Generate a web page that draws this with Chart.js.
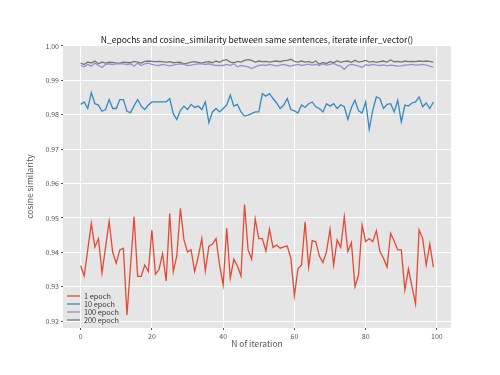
<!DOCTYPE html>
<html>
<head>
<meta charset="utf-8">
<script src="https://cdn.jsdelivr.net/npm/chart.js@4"></script>
<style>
  html, body { margin: 0; padding: 0; background: #fff; }
  #wrap { width: 500px; height: 375px; }
</style>
</head>
<body>
<div id="wrap"><canvas id="simChart" width="500" height="375"></canvas></div>
<script>
const iterations = Array.from({ length: 100 }, (_, i) => i);

const epoch1 = [
    0.9361, 0.9331, 0.9408, 0.9484, 0.9415, 0.9440, 0.9340, 0.9415, 0.9490, 0.9400,
    0.9368, 0.9407, 0.9412, 0.9218, 0.9360, 0.9503, 0.9330, 0.9330, 0.9363, 0.9344,
    0.9465, 0.9336, 0.9350, 0.9396, 0.9317, 0.9513, 0.9344, 0.9390, 0.9528, 0.9436,
    0.9401, 0.9407, 0.9344, 0.9387, 0.9440, 0.9346, 0.9418, 0.9424, 0.9440, 0.9363,
    0.9305, 0.9470, 0.9325, 0.9380, 0.9360, 0.9331, 0.9539, 0.9407, 0.9380, 0.9497,
    0.9440, 0.9440, 0.9404, 0.9467, 0.9414, 0.9421, 0.9412, 0.9416, 0.9418, 0.9383,
    0.9274, 0.9352, 0.9363, 0.9489, 0.9357, 0.9434, 0.9431, 0.9389, 0.9370, 0.9402,
    0.9467, 0.9363, 0.9436, 0.9414, 0.9503, 0.9402, 0.9428, 0.9300, 0.9334, 0.9479,
    0.9431, 0.9440, 0.9431, 0.9463, 0.9402, 0.9383, 0.9357, 0.9455, 0.9433, 0.9407,
    0.9407, 0.9291, 0.9352, 0.9300, 0.9250, 0.9465, 0.9440, 0.9363, 0.9424, 0.9357
];

const epoch10 = [
    0.9830, 0.9837, 0.9818, 0.9864, 0.9832, 0.9828, 0.9810, 0.9815, 0.9844, 0.9818,
    0.9818, 0.9844, 0.9844, 0.9810, 0.9806, 0.9826, 0.9844, 0.9825, 0.9815, 0.9828,
    0.9837, 0.9837, 0.9837, 0.9837, 0.9837, 0.9847, 0.9803, 0.9786, 0.9813, 0.9825,
    0.9815, 0.9830, 0.9821, 0.9825, 0.9815, 0.9837, 0.9777, 0.9808, 0.9818, 0.9808,
    0.9818, 0.9828, 0.9857, 0.9825, 0.9830, 0.9808, 0.9796, 0.9799, 0.9803, 0.9808,
    0.9808, 0.9861, 0.9854, 0.9861, 0.9847, 0.9834, 0.9818, 0.9828, 0.9847, 0.9815,
    0.9811, 0.9805, 0.9828, 0.9821, 0.9832, 0.9837, 0.9823, 0.9818, 0.9808, 0.9832,
    0.9825, 0.9832, 0.9818, 0.9829, 0.9823, 0.9786, 0.9821, 0.9842, 0.9811, 0.9805,
    0.9837, 0.9758, 0.9813, 0.9852, 0.9847, 0.9818, 0.9830, 0.9832, 0.9808, 0.9842,
    0.9779, 0.9828, 0.9825, 0.9834, 0.9837, 0.9852, 0.9823, 0.9834, 0.9818, 0.9837
];

const epoch100 = [
    0.9943, 0.9939, 0.9946, 0.9941, 0.9950, 0.9943, 0.9937, 0.9946, 0.9948, 0.9946,
    0.9948, 0.9948, 0.9948, 0.9946, 0.9948, 0.9941, 0.9950, 0.9943, 0.9948, 0.9950,
    0.9946, 0.9944, 0.9943, 0.9946, 0.9944, 0.9942, 0.9944, 0.9946, 0.9948, 0.9946,
    0.9943, 0.9944, 0.9946, 0.9948, 0.9948, 0.9946, 0.9948, 0.9945, 0.9943, 0.9943,
    0.9943, 0.9946, 0.9943, 0.9948, 0.9939, 0.9943, 0.9941, 0.9939, 0.9934, 0.9939,
    0.9943, 0.9945, 0.9943, 0.9946, 0.9944, 0.9941, 0.9944, 0.9946, 0.9943, 0.9941,
    0.9944, 0.9946, 0.9943, 0.9945, 0.9947, 0.9944, 0.9946, 0.9943, 0.9948, 0.9944,
    0.9946, 0.9949, 0.9944, 0.9941, 0.9932, 0.9943, 0.9946, 0.9944, 0.9941, 0.9938,
    0.9945, 0.9943, 0.9946, 0.9944, 0.9943, 0.9945, 0.9942, 0.9944, 0.9943, 0.9941,
    0.9942, 0.9944, 0.9945, 0.9946, 0.9944, 0.9945, 0.9946, 0.9944, 0.9941, 0.9938
];

const epoch200 = [
    0.9950, 0.9946, 0.9953, 0.9950, 0.9956, 0.9948, 0.9953, 0.9950, 0.9953, 0.9952,
    0.9950, 0.9950, 0.9953, 0.9952, 0.9951, 0.9955, 0.9953, 0.9950, 0.9955, 0.9956,
    0.9955, 0.9954, 0.9955, 0.9954, 0.9952, 0.9954, 0.9951, 0.9952, 0.9953, 0.9948,
    0.9950, 0.9953, 0.9954, 0.9952, 0.9950, 0.9953, 0.9954, 0.9951, 0.9956, 0.9952,
    0.9958, 0.9960, 0.9953, 0.9951, 0.9955, 0.9953, 0.9958, 0.9960, 0.9958, 0.9953,
    0.9956, 0.9954, 0.9955, 0.9953, 0.9955, 0.9956, 0.9954, 0.9957, 0.9958, 0.9961,
    0.9955, 0.9953, 0.9956, 0.9953, 0.9955, 0.9951, 0.9956, 0.9947, 0.9952, 0.9949,
    0.9954, 0.9951, 0.9957, 0.9952, 0.9955, 0.9956, 0.9952, 0.9958, 0.9953, 0.9955,
    0.9958, 0.9953, 0.9955, 0.9952, 0.9954, 0.9956, 0.9953, 0.9959, 0.9954, 0.9955,
    0.9953, 0.9956, 0.9954, 0.9955, 0.9954, 0.9956, 0.9955, 0.9956, 0.9955, 0.9953
];

const seriesLabels = ['1 epoch', '10 epoch', '100 epoch', '200 epoch'];
const seriesColors = ['#E24A33', '#348ABD', '#988ED5', '#777777'];
const xTicks = [0, 20, 40, 60, 80, 100];
const yTicks = [0.92, 0.93, 0.94, 0.95, 0.96, 0.97, 0.98, 0.99, 1.00];

const FONT = '"Noto Sans CJK JP", "Noto Sans", "DejaVu Sans", sans-serif';

const toPoints = (vals) => vals.map((v, i) => ({ x: iterations[i], y: v }));

// legend drawn inside the plot, lower left (like matplotlib loc='lower left')
const insideLegend = {
    id: 'insideLegend',
    afterDatasetsDraw(chart) {
        const { ctx, chartArea } = chart;
        const x0 = chartArea.left + 4;
        const yLast = chartArea.bottom - 8;
        const gap = 8;
        ctx.save();
        ctx.font = '7.3px ' + FONT;
        ctx.textBaseline = 'middle';
        chart.data.datasets.forEach((ds, i) => {
            const y = yLast - (chart.data.datasets.length - 1 - i) * gap;
            ctx.strokeStyle = ds.borderColor;
            ctx.lineWidth = 1.3;
            ctx.beginPath();
            ctx.moveTo(x0, y);
            ctx.lineTo(x0 + 13, y);
            ctx.stroke();
            ctx.fillStyle = '#333';
            ctx.fillText(ds.label, x0 + 17, y);
        });
        ctx.restore();
    }
};

const plotBg = {
    id: 'plotBg',
    beforeDraw(chart) {
        const { ctx, chartArea } = chart;
        ctx.save();
        ctx.fillStyle = '#E5E5E5';
        ctx.fillRect(chartArea.left, chartArea.top, chartArea.right - chartArea.left, chartArea.bottom - chartArea.top);
        ctx.restore();
    }
};

const ctx = document.getElementById('simChart').getContext('2d');

const chart = new Chart(ctx, {
    type: 'line',
    data: {
        datasets: [epoch1, epoch10, epoch100, epoch200].map((vals, i) => ({
            label: seriesLabels[i],
            data: toPoints(vals),
            borderColor: seriesColors[i],
            backgroundColor: seriesColors[i],
            borderWidth: 1.3,
            pointRadius: 0,
            tension: 0,
            fill: false
        }))
    },
    options: {
        responsive: false,
        animation: false,
        layout: { padding: { left: 0, right: 49, top: 0, bottom: 0 } },
        plugins: {
            legend: { display: false },
            tooltip: { enabled: false },
            title: {
                display: true,
                fullSize: false,
                text: 'N_epochs and cosine_similarity between same sentences, iterate infer_vector()',
                color: '#111',
                font: { family: FONT, size: 8.5, weight: 'normal' },
                padding: { top: 35, bottom: 0 }
            }
        },
        scales: {
            x: {
                type: 'linear',
                min: -4.95,
                max: 103.95,
                afterBuildTicks: (scale) => { scale.ticks = xTicks.map(v => ({ value: v })); },
                afterFit: (scale) => { scale.height = 47; },
                grid: { color: '#FFFFFF', lineWidth: 1, tickLength: 2, tickColor: '#555555' },
                border: { display: false },
                ticks: { color: '#555555', font: { family: FONT, size: 7 }, padding: 2, maxRotation: 0 },
                title: {
                    display: true,
                    text: 'N of iteration',
                    color: '#555555',
                    font: { family: FONT, size: 8.5 },
                    padding: { top: 0, bottom: 26 }
                }
            },
            y: {
                min: 0.918,
                max: 1.0002,
                afterBuildTicks: (scale) => { scale.ticks = yTicks.map(v => ({ value: v })); },
                afterFit: (scale) => { scale.width = 63; },
                grid: { color: '#FFFFFF', lineWidth: 1, tickLength: 2, tickColor: '#555555' },
                border: { display: false },
                ticks: {
                    color: '#555555',
                    font: { family: FONT, size: 7 },
                    padding: 2,
                    callback: (v) => Number(v).toFixed(2)
                },
                title: {
                    display: true,
                    text: 'cosine similarity',
                    color: '#555555',
                    font: { family: FONT, size: 8.5 },
                    padding: { top: 25, bottom: 0 }
                }
            }
        }
    },
    plugins: [plotBg, insideLegend]
});
</script>
</body>
</html>
